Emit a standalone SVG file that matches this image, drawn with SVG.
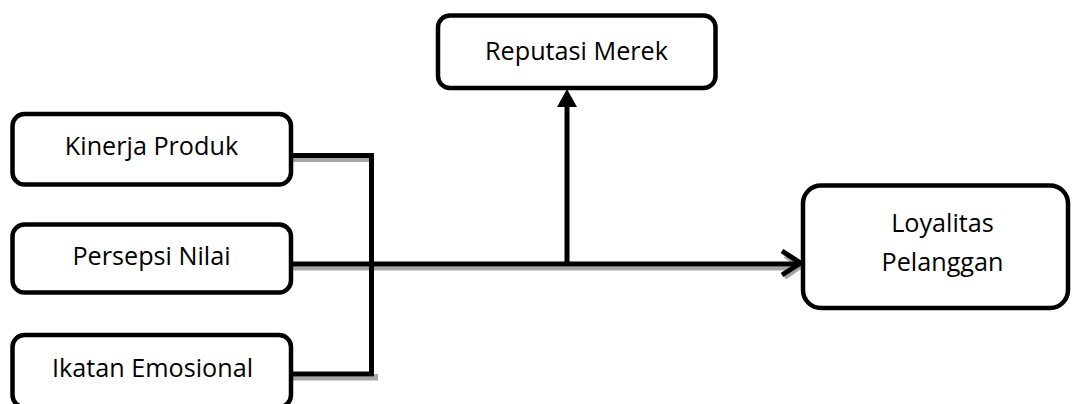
<svg xmlns="http://www.w3.org/2000/svg" width="1072" height="404" viewBox="0 0 1072 404">
  <defs>
    <style>
      .box { fill: #ffffff; stroke: #000000; stroke-width: 4.5; }
      .lbl { font-family: "Open Sans", "Liberation Sans", sans-serif; font-size: 25.2px; fill: #000000; text-anchor: middle; }
      .ln { fill: none; stroke: #000000; stroke-width: 5; }
      .sh { fill: none; stroke: #a6a6a6; stroke-width: 4; }
    </style>
  </defs>
  <rect width="1072" height="404" fill="#ffffff"/>
  <g id="connectors">
    <path class="sh" d="M293 160 H370"/>
    <path class="sh" d="M293 268.5 H790"/>
    <path class="sh" d="M293 378.5 H376 V374"/>
    <path class="sh" d="M785 256 L801 266.5 L785 278"/>
    <path class="ln" d="M291 155.5 H371.5 V374 H291"/>
    <path class="ln" d="M291 264 H800"/>
    <path class="ln" d="M782 251 L800.5 263 L782 275" stroke-linejoin="miter"/>
    <path class="ln" d="M567 264 V104"/>
    <polygon points="567,89 557,107 577,107" fill="#000000"/>
  </g>
  <g id="kinerja">
    <rect class="box" x="12.5" y="114" width="278.5" height="70.5" rx="12"/>
    <text class="lbl" x="151.5" y="155">Kinerja Produk</text>
  </g>
  <g id="persepsi">
    <rect class="box" x="12.5" y="224.5" width="278.5" height="68" rx="12"/>
    <text class="lbl" x="151.5" y="265">Persepsi Nilai</text>
  </g>
  <g id="ikatan">
    <rect class="box" x="12.5" y="335" width="278.5" height="72" rx="12"/>
    <text class="lbl" x="152.5" y="377">Ikatan Emosional</text>
  </g>
  <g id="reputasi">
    <rect class="box" x="438" y="15.5" width="277.5" height="72.5" rx="12"/>
    <text class="lbl" x="576.5" y="60">Reputasi Merek</text>
  </g>
  <g id="loyalitas">
    <rect class="box" x="803" y="185.5" width="265" height="122.5" rx="18"/>
    <text class="lbl" x="942.5" y="232">Loyalitas</text>
    <text class="lbl" x="942.5" y="271">Pelanggan</text>
  </g>
</svg>
